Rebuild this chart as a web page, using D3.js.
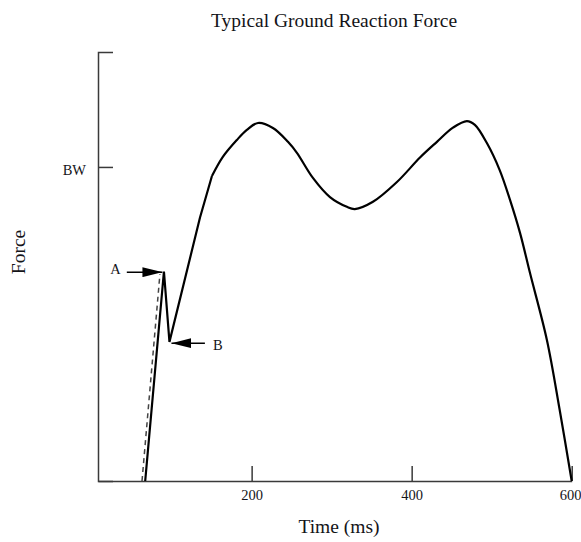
<!DOCTYPE html>
<html>
<head>
<meta charset="utf-8">
<script src="https://cdn.jsdelivr.net/npm/d3@7"></script>
<style>
  html, body { margin: 0; padding: 0; background: #fff; }
  svg { display: block; }
  text { font-family: "Liberation Serif", "DejaVu Serif", serif; fill: #141418; }
</style>
</head>
<body>
<svg id="chart" width="581" height="542"></svg>
<script>
// ---- data (time in ms, force in body weights) ----
const titleText = "Typical Ground Reaction Force";
const xLabel = "Time (ms)";
const yLabel = "Force";
const xTicks = [200, 400, 600];
const yTicks = [1];
const yTickLabels = ["BW"];

// impact spike: heel strike rise to A, drop to B, rise again (sharp corners)
const impactPoints = [[67, 0], [90.4, 0.667], [97.3, 0.443], [135.4, 0.838], [150.4, 0.971]];
// smooth stance phase curve
const stancePoints = [
  [150.4, 0.971], [164, 1.032], [181.6, 1.086], [194, 1.118], [208, 1.140],
  [226.6, 1.124], [245.4, 1.080], [256.6, 1.045], [276.6, 0.965], [297.9, 0.904],
  [319, 0.873], [329, 0.866], [351.6, 0.889], [381.6, 0.952], [410.4, 1.030],
  [431.6, 1.080], [451.6, 1.125], [469, 1.146], [479, 1.134], [494, 1.076],
  [510, 0.990], [522.9, 0.895], [535.4, 0.790], [547.9, 0.662], [569, 0.449],
  [585, 0.226], [600, 0]
];
// dashed idealised rise
const dashedPoints = [[63, 0], [85.4, 0.659]];
// annotation arrows: [tailTime, tipTime, force]
const arrowA = [44, 88.5, 0.665];
const arrowB = [141.6, 99.8, 0.439];
const labelA = "A";
const labelB = "B";

// ---- layout ----
const svg = d3.select("#chart");
const x = d3.scaleLinear().domain([8, 600]).range([98, 571.7]);
const y = d3.scaleLinear().domain([0, 1.366]).range([481, 52]);

// arrowhead marker
svg.append("defs").append("marker")
  .attr("id", "head")
  .attr("markerUnits", "userSpaceOnUse")
  .attr("viewBox", "0 0 20 10")
  .attr("refX", 20).attr("refY", 5)
  .attr("markerWidth", 20).attr("markerHeight", 10)
  .attr("orient", "auto")
  .append("path").attr("d", "M0,0L20,5L0,10Z").attr("fill", "#000");

// title
svg.append("text")
  .attr("x", 334).attr("y", 27)
  .attr("text-anchor", "middle")
  .style("font-size", "19.5px")
  .text(titleText);

// x axis
const gx = svg.append("g")
  .attr("transform", "translate(0,481)")
  .call(d3.axisBottom(x).tickValues(xTicks).tickFormat(d3.format("d"))
    .tickSizeInner(-15).tickSizeOuter(0).tickPadding(9));
gx.selectAll("text").style("font-size", "14.5px").attr("fill", "#141418")
  .style("font-family", '"Liberation Serif", serif')
  .attr("dx", (d, i, n) => i === n.length - 1 ? -1.5 : 0);

// y axis
const gy = svg.append("g")
  .attr("transform", "translate(98,0)")
  .call(d3.axisLeft(y).tickValues(yTicks).tickFormat((d, i) => yTickLabels[i])
    .tickSizeInner(-15).tickSizeOuter(-15).tickPadding(12));
gy.selectAll("text").style("font-size", "14.5px").attr("fill", "#141418").attr("dy", "0.55em")
  .style("font-family", '"Liberation Serif", serif');

svg.selectAll(".domain, .tick line").attr("stroke", "#3a3a3a").attr("stroke-width", 1.5);

// axis labels
svg.append("text")
  .attr("x", 339).attr("y", 533)
  .attr("text-anchor", "middle")
  .style("font-size", "19.5px")
  .text(xLabel);

svg.append("text")
  .attr("transform", "translate(25,252) rotate(-90)")
  .attr("text-anchor", "middle")
  .style("font-size", "19.5px")
  .text(yLabel);

// dashed rise
svg.append("path")
  .datum(dashedPoints)
  .attr("fill", "none")
  .attr("stroke", "#444")
  .attr("stroke-width", 1.5)
  .attr("stroke-dasharray", "5,4")
  .attr("d", d3.line().x(d => x(d[0])).y(d => y(d[1])));

// impact spike (linear)
svg.append("path")
  .datum(impactPoints)
  .attr("fill", "none")
  .attr("stroke", "#000")
  .attr("stroke-width", 2.2)
  .attr("stroke-linejoin", "miter")
  .attr("d", d3.line().x(d => x(d[0])).y(d => y(d[1])));

// stance curve (smooth)
svg.append("path")
  .datum(stancePoints)
  .attr("fill", "none")
  .attr("stroke", "#000")
  .attr("stroke-width", 2.2)
  .attr("d", d3.line().curve(d3.curveCatmullRom.alpha(0.5)).x(d => x(d[0])).y(d => y(d[1])));

// arrows
[arrowA, arrowB].forEach(a => {
  svg.append("line")
    .attr("x1", x(a[0])).attr("y1", y(a[2]))
    .attr("x2", x(a[1])).attr("y2", y(a[2]))
    .attr("stroke", "#000").attr("stroke-width", 1.5)
    .attr("marker-end", "url(#head)");
});

svg.append("text")
  .attr("x", x(arrowA[0]) - 6).attr("y", y(arrowA[2]) + 2)
  .attr("text-anchor", "end")
  .style("font-size", "14.5px")
  .text(labelA);

svg.append("text")
  .attr("x", x(arrowB[0]) + 8).attr("y", y(arrowB[2]) + 7)
  .attr("text-anchor", "start")
  .style("font-size", "14.5px")
  .text(labelB);
</script>
</body>
</html>
